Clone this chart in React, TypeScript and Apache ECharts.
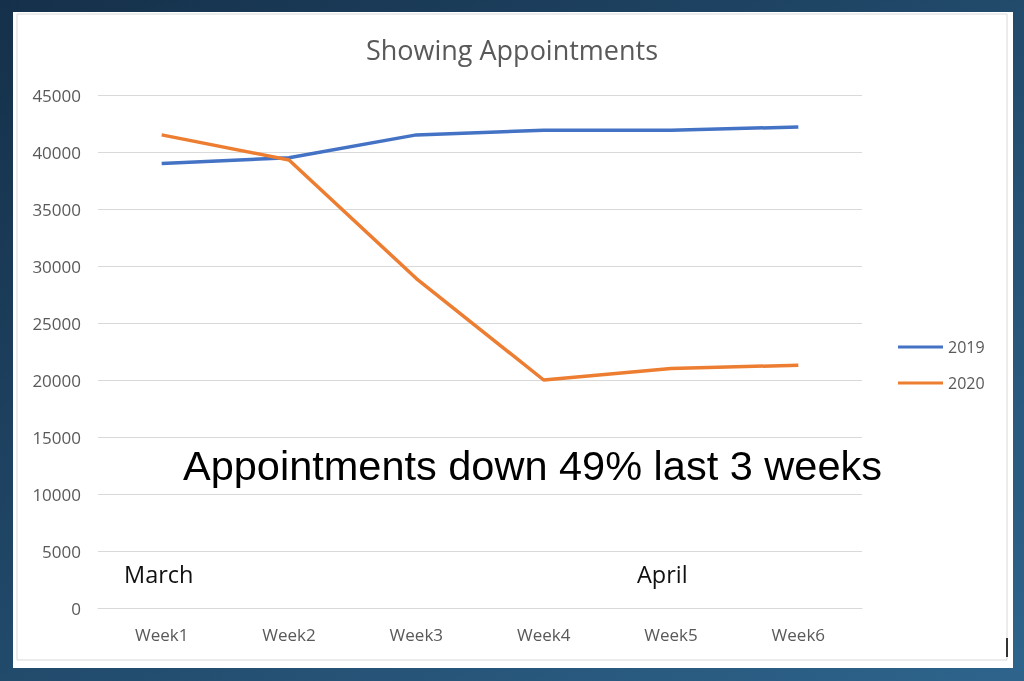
import React, { useEffect, useRef } from "react";
import * as echarts from "echarts";

const categories = ["Week1", "Week2", "Week3", "Week4", "Week5", "Week6"];
const series2019 = [39000, 39500, 41500, 41900, 41900, 42200];
const series2020 = [41500, 39300, 28900, 20000, 21000, 21300];
const seriesNames = ["2019", "2020"];

export default function App() {
  const ref = useRef<HTMLDivElement>(null);
  useEffect(() => {
    const chart = echarts.init(ref.current!, null, { renderer: "svg" });
    const font = "'Open Sans', 'Noto Sans', sans-serif";
    chart.setOption({
      animation: false,
      graphic: [
        {
          type: "rect",
          z: -10,
          silent: true,
          shape: { x: 0, y: 0, width: 1024, height: 681 },
          style: {
            fill: new echarts.graphic.LinearGradient(0, 0, 1, 1, [
              { offset: 0, color: "#15304a" },
              { offset: 1, color: "#2e648c" },
            ]),
          },
        },
        {
          type: "rect",
          z: -9,
          silent: true,
          shape: { x: 13, y: 12, width: 1000, height: 656 },
          style: { fill: "#ffffff" },
        },
        {
          type: "rect",
          z: -8,
          silent: true,
          shape: { x: 17, y: 14, width: 990, height: 646 },
          style: { fill: "none", stroke: "#d9d9d9", lineWidth: 1 },
        },
        {
          type: "line",
          silent: true,
          shape: { x1: 1007, y1: 638, x2: 1007, y2: 657 },
          style: { stroke: "#333", lineWidth: 2 },
        },
        {
          type: "text",
          left: 183,
          top: 444,
          style: {
            text: "Appointments down 49% last 3 weeks",
            font: "41.5px 'Liberation Sans', Arial, sans-serif",
            fill: "#000",
          },
        },
        {
          type: "text",
          left: 124,
          top: 562,
          style: { text: "March", font: "23.5px " + font, fill: "#111" },
        },
        {
          type: "text",
          left: 637,
          top: 562,
          style: { text: "April", font: "23.5px " + font, fill: "#111" },
        },
      ],
      title: {
        text: "Showing Appointments",
        left: "center",
        top: 31,
        textStyle: { fontFamily: font, fontSize: 27, fontWeight: "normal", color: "#595959" },
      },
      legend: {
        orient: "vertical",
        left: 893,
        top: 334,
        itemGap: 20,
        itemWidth: 45,
        itemHeight: 3,
        icon: "rect",
        textStyle: { fontFamily: font, fontSize: 16, color: "#595959" },
        data: seriesNames,
      },
      grid: { left: 98, right: 162, top: 95, bottom: 73, containLabel: false },
      xAxis: {
        type: "category",
        data: categories,
        boundaryGap: true,
        axisLine: { lineStyle: { color: "#d9d9d9" } },
        axisTick: { show: false },
        axisLabel: { color: "#595959", fontFamily: font, fontSize: 17, margin: 18 },
      },
      yAxis: {
        type: "value",
        min: 0,
        max: 45000,
        interval: 5000,
        axisLine: { show: false },
        axisTick: { show: false },
        axisLabel: {
          color: "#595959",
          fontFamily: font,
          fontSize: 17,
          margin: 17,
          formatter: (v: number) => String(v),
        },
        splitLine: { lineStyle: { color: "#d9d9d9" } },
      },
      series: [
        {
          name: seriesNames[0],
          type: "line",
          data: series2019,
          symbol: "none",
          lineStyle: { width: 3.5, color: "#4472c4" },
          itemStyle: { color: "#4472c4" },
        },
        {
          name: seriesNames[1],
          type: "line",
          data: series2020,
          symbol: "none",
          lineStyle: { width: 3.5, color: "#ed7d31" },
          itemStyle: { color: "#ed7d31" },
        },
      ],
    });
    return () => chart.dispose();
  }, []);
  return (
    <div
      ref={ref}
      style={{ position: "fixed", left: 0, top: 0, width: 1024, height: 681 }}
    />
  );
}
